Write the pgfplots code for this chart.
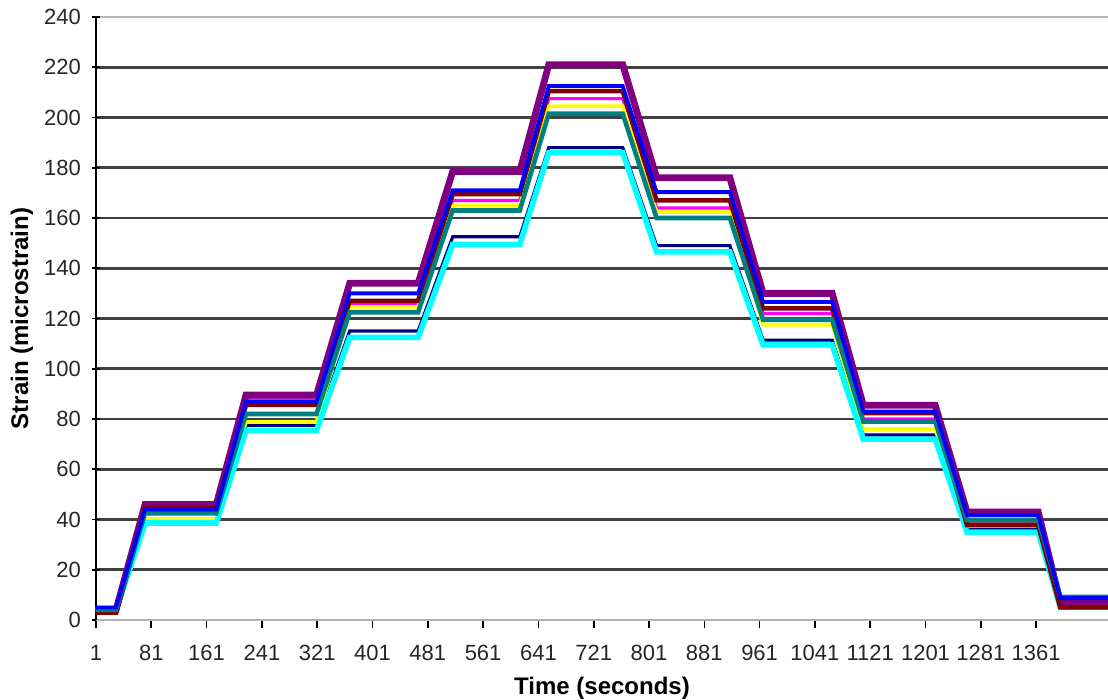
\documentclass[border=0pt]{standalone}
\usepackage{fontspec}
\setmainfont{Liberation Sans}
\usepackage{pgfplots}
\usepackage{pgfplotstable}
\pgfplotsset{compat=1.18}
\definecolor{xnavy}{HTML}{000080}
\definecolor{xmagenta}{HTML}{FF00FF}
\definecolor{xyellow}{HTML}{FFFF00}
\definecolor{xcyan}{HTML}{00FFFF}
\definecolor{xpurple}{HTML}{800080}
\definecolor{xdarkred}{HTML}{800000}
\definecolor{xteal}{HTML}{008080}
\definecolor{xblue}{HTML}{0000FF}
\pgfplotstableread{
t     navy   magenta yellow cyan   purple darkred teal  blue
1     4      5       4      4      4      3       4     5
30    4      5       4      4      4      3       4     5
72    40     43      40     38.6   46     44.5    42.5  44
175   40     43      40     38.6   46     44.5    42.5  44
218   77.5   87.6    78.8   75.5   89.5   85.6    82    86.8
320   77.5   87.6    78.8   75.5   89.5   85.6    82    86.8
368   115    125.5   124.6  112.5  134    127     122.5 130
467   115    125.5   124.6  112.5  134    127     122.5 130
517   152.5  167     165    149.5  178.5  169.5   163   171
614   152.5  167     165    149.5  178.5  169.5   163   171
656   188    207.5   204.5  186    221    210.5   201.5 212.5
763   188    207.5   204.5  186    221    210.5   201.5 212.5
812   149    164     162.4  146.5  176    167     160   170.3
918   149    164     162.4  146.5  176    167     160   170.3
966   111.4  122     117.5  109.5  130    124     119.5 126.6
1066  111.4  122     117.5  109.5  130    124     119.5 126.6
1111  73.6   80      76     72     85.5   82.4    79    83
1215  73.6   80      76     72     85.5   82.4    79    83
1261  36     39      38     35     43     37.8    39.8  41.8
1364  36     39      38     35     43     37.8    39.8  41.8
1396  6      6       6      5      7      5       9.2   8.7
1465  6      6       6      5      7      5       9.2   8.7
}\strain
\begin{document}
\begin{tikzpicture}
\begin{axis}[
  scale only axis,
  width=506pt, height=301.5pt,
  xmin=1, xmax=1465, ymin=0, ymax=240,
  xtick={1,81,...,1361},
  ytick={0,20,...,220},
  extra y ticks={240},
  extra y tick style={grid style={gray!55, line width=1pt}},
  ymajorgrids,
  grid style={black!75, line width=1.3pt},
  axis x line*=bottom, axis y line*=left,
  x axis line style={gray!60, line width=1pt, -},
  y axis line style={black, line width=0.8pt, -},
  tick style={black, line width=0.8pt},
  major tick length=4pt,
  ytick align=center, xtick align=outside,
  /pgf/number format/assume math mode=true,
  /pgf/number format/1000 sep={},
  ticklabel style={font=\fontsize{11}{13}\selectfont, text=black!85},
  yticklabel style={xshift=-2pt},
  xticklabel style={yshift=-5pt},
  xlabel={Time (seconds)}, ylabel={Strain (microstrain)},
  label style={font=\fontsize{12}{14}\selectfont\bfseries},
  xlabel style={at={(axis description cs:0.5,0)}, anchor=center, yshift=-34pt},
  ylabel style={at={(axis description cs:0,0.5)}, anchor=center, rotate=0, yshift=37pt},
  clip=true,
]
\addplot[xnavy, line width=1.6pt] table[x=t,y=navy]{\strain};
\addplot[xmagenta, line width=1.6pt] table[x=t,y=magenta]{\strain};
\addplot[xyellow, line width=1.8pt] table[x=t,y=yellow]{\strain};
\addplot[xcyan, line width=2.8pt] table[x=t,y=cyan]{\strain};
\addplot[xpurple, line width=3.4pt] table[x=t,y=purple]{\strain};
\addplot[xdarkred, line width=2.3pt] table[x=t,y=darkred]{\strain};
\addplot[xteal, line width=2.3pt] table[x=t,y=teal]{\strain};
\addplot[xblue, line width=1.9pt] table[x=t,y=blue]{\strain};
\end{axis}
\pgfresetboundingbox
\path[use as bounding box] ([xshift=-48pt,yshift=-40pt]current axis.south west) rectangle ([yshift=8.5pt]current axis.north east);
\end{tikzpicture}
\end{document}
